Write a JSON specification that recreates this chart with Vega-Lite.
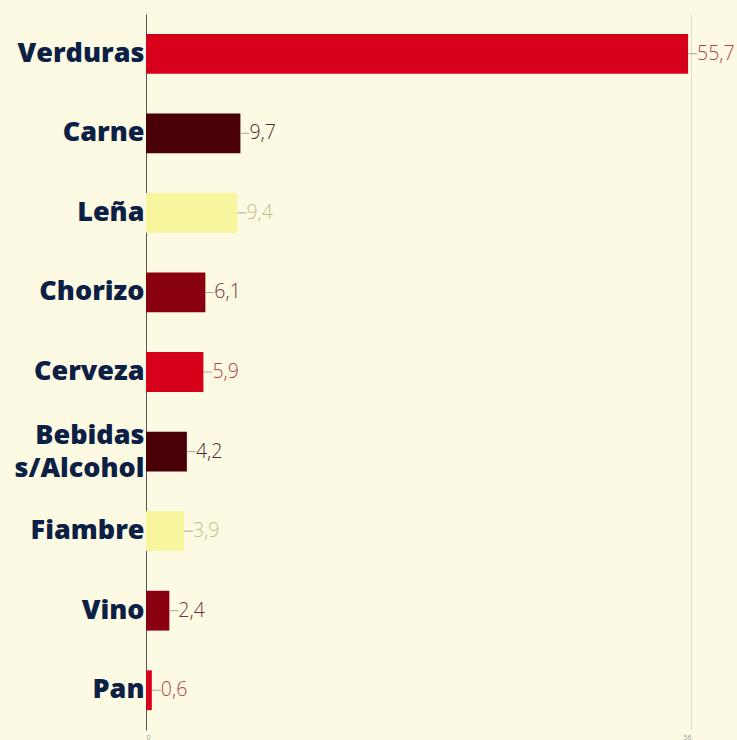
{
  "$schema": "https://vega.github.io/schema/vega-lite/v6.json",
  "width": 545,
  "height": 716,
  "autosize": {"type": "none"},
  "padding": {"left": 146, "top": 14, "right": 46, "bottom": 10},
  "background": "#fcfae2",
  "config": {"view": {"stroke": null}},
  "data": {
    "values": [
      {"producto": "Verduras", "valor": 55.7, "etiqueta": "55,7", "grupo": "a"},
      {"producto": "Carne", "valor": 9.7, "etiqueta": "9,7", "grupo": "b"},
      {"producto": "Leña", "valor": 9.4, "etiqueta": "9,4", "grupo": "c"},
      {"producto": "Chorizo", "valor": 6.1, "etiqueta": "6,1", "grupo": "d"},
      {"producto": "Cerveza", "valor": 5.9, "etiqueta": "5,9", "grupo": "a"},
      {"producto": "Bebidas|s/Alcohol", "valor": 4.2, "etiqueta": "4,2", "grupo": "b"},
      {"producto": "Fiambre", "valor": 3.9, "etiqueta": "3,9", "grupo": "c"},
      {"producto": "Vino", "valor": 2.4, "etiqueta": "2,4", "grupo": "d"},
      {"producto": "Pan", "valor": 0.6, "etiqueta": "0,6", "grupo": "a"}
    ]
  },
  "encoding": {
    "y": {
      "field": "producto",
      "type": "nominal",
      "sort": null,
      "scale": {"paddingInner": 0.5, "paddingOuter": 0.25},
      "axis": {
        "title": null,
        "labelExpr": "split(datum.label, '|')",
        "labelFont": "Open Sans",
        "labelFontSize": 27,
        "labelFontWeight": 800,
        "labelColor": "#0c2045",
        "labelLineHeight": 33,
        "labelPadding": 2,
        "labelOffset": {"condition": {"test": "indexof(datum.value, '|') >= 0", "value": -16}, "value": 0},
        "ticks": false,
        "domainColor": "#555555",
        "domainWidth": 1,
        "labelLimit": 200
      }
    }
  },
  "layer": [
    {
      "mark": {"type": "bar"},
      "encoding": {
        "x": {
          "field": "valor",
          "type": "quantitative",
          "scale": {"domain": [0, 56], "nice": false},
          "axis": {
            "title": null,
            "values": [0, 56],
            "domain": false,
            "ticks": false,
            "grid": true,
            "gridColor": "#e2dfc8",
            "gridWidth": 1,
            "labelFontSize": 7,
            "labelColor": "#9a9a9a",
            "labelPadding": 3,
            "labelFont": "Open Sans"
          }
        },
        "color": {
          "field": "grupo",
          "type": "nominal",
          "scale": {"domain": ["a", "b", "c", "d"], "range": ["#d7001a", "#4a0009", "#f7f59d", "#890011"]},
          "legend": null
        }
      }
    },
    {
      "mark": {"type": "rule", "x2Offset": 9, "color": "#a8a8a0", "strokeWidth": 1},
      "encoding": {
        "x": {"field": "valor", "type": "quantitative"},
        "x2": {"field": "valor"}
      }
    },
    {
      "mark": {"type": "text", "align": "left", "baseline": "middle", "dx": 9, "fontSize": 19.5, "font": "Open Sans", "fontWeight": 300},
      "encoding": {
        "x": {"field": "valor", "type": "quantitative"},
        "text": {"field": "etiqueta"},
        "color": {
          "field": "grupo",
          "type": "nominal",
          "scale": {"domain": ["a", "b", "c", "d"], "range": ["#b33d48", "#4a2a35", "#c4bf8a", "#7a2a45"]},
          "legend": null
        }
      }
    }
  ],
  "resolve": {"scale": {"color": "independent"}}
}
